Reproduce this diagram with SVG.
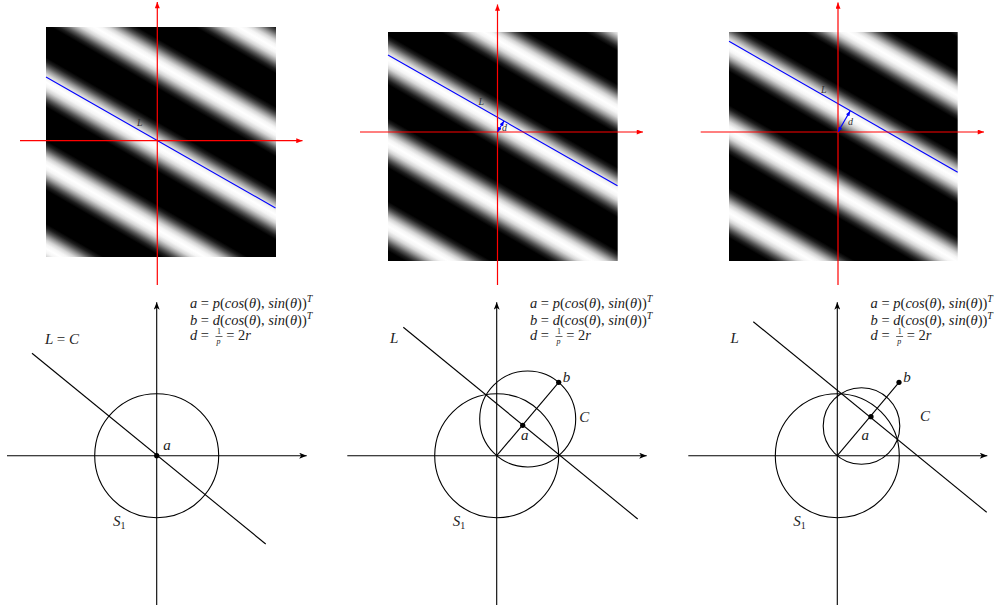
<svg xmlns="http://www.w3.org/2000/svg" xmlns:xlink="http://www.w3.org/1999/xlink" width="997" height="610" viewBox="0 0 997 610">
<style>
.red{stroke:#ff0000;stroke-width:1.2;fill:none}
.blue{stroke:#0000ff;stroke-width:1.1;fill:none}
.blk{stroke:#000;stroke-width:1.1;fill:none}
.ax{stroke:#000;stroke-width:1.1;fill:none}
.tl{font-family:"Liberation Serif",serif;font-style:italic;font-size:10px;fill:#333}
.lb{font-family:"Liberation Serif",serif;font-style:italic;font-size:15px;fill:#222}
.fm{font-family:"Liberation Serif",serif;font-style:italic;font-size:14.5px;fill:#222}
.sm{font-family:"Liberation Serif",serif;font-style:italic;font-size:8px;fill:#222}
.up{font-style:normal}
</style>
<defs>
<marker id="ra" viewBox="0 0 10 8" refX="10" refY="4" markerWidth="7" markerHeight="5" orient="auto" markerUnits="userSpaceOnUse"><path d="M0,0 L10,4 L0,8 z" fill="#ff0000"/></marker>
<marker id="ba" viewBox="0 0 10 8" refX="10" refY="4" markerWidth="5" markerHeight="4" orient="auto-start-reverse" markerUnits="userSpaceOnUse"><path d="M0,0 L10,4 L0,8 z" fill="#0000ff"/></marker>
<marker id="ka" viewBox="0 0 10 8" refX="10" refY="4" markerWidth="9" markerHeight="6" orient="auto" markerUnits="userSpaceOnUse"><path d="M0,0 L10,4 L0,8 L2.5,4 z" fill="#000"/></marker>
<linearGradient id="g1" gradientUnits="userSpaceOnUse" x1="154.8" y1="145.03" x2="190.8" y2="82.68" spreadMethod="repeat">
<stop offset="0" stop-color="#fff"/><stop offset="0.05" stop-color="#f5f5f5"/><stop offset="0.1" stop-color="#d5d5d5"/><stop offset="0.15" stop-color="#9a9a9a"/><stop offset="0.2" stop-color="#555"/><stop offset="0.25" stop-color="#1e1e1e"/><stop offset="0.3" stop-color="#000"/><stop offset="0.7" stop-color="#000"/><stop offset="0.75" stop-color="#1e1e1e"/><stop offset="0.8" stop-color="#555"/><stop offset="0.85" stop-color="#9a9a9a"/><stop offset="0.9" stop-color="#d5d5d5"/><stop offset="0.95" stop-color="#f5f5f5"/><stop offset="1" stop-color="#fff"/>
</linearGradient>
<linearGradient id="g2" xlink:href="#g1" gradientUnits="userSpaceOnUse" x1="501.4" y1="125.33" x2="537.4" y2="62.98" spreadMethod="repeat"/>
<linearGradient id="g3" xlink:href="#g1" gradientUnits="userSpaceOnUse" x1="847.7" y1="115.23" x2="883.7" y2="52.88" spreadMethod="repeat"/>
</defs>
<rect width="997" height="610" fill="#fff"/>

<g id="top-1">
<rect x="46" y="27" width="230" height="230" fill="url(#g1)"/>
<line class="blue" x1="46" y1="77" x2="275.5" y2="208"/>
<line class="red" x1="157.3" y1="285" x2="157.3" y2="2" marker-end="url(#ra)"/>
<line class="red" x1="20" y1="140.7" x2="302.5" y2="140.7" marker-end="url(#ra)"/>
<text class="tl" x="137" y="126">L</text>
</g>

<g id="top-2">
<rect x="388" y="32" width="229.7" height="229" fill="url(#g2)"/>
<line class="blue" x1="388" y1="55" x2="617.5" y2="185.7"/>
<line class="red" x1="497.5" y1="285" x2="497.5" y2="4.5" marker-end="url(#ra)"/>
<line class="red" x1="360" y1="132" x2="643" y2="132" marker-end="url(#ra)"/>
<line class="blue" x1="497.5" y1="132" x2="503.9" y2="121" marker-start="url(#ba)" marker-end="url(#ba)"/>
<text class="tl" x="478.5" y="105">L</text>
<text class="tl" x="502" y="131">d</text>
</g>

<g id="top-3">
<rect x="729" y="32" width="228.7" height="229" fill="url(#g3)"/>
<line class="blue" x1="729" y1="41.3" x2="957.7" y2="172.3"/>
<line class="red" x1="838" y1="285" x2="838" y2="2.5" marker-end="url(#ra)"/>
<line class="red" x1="700.7" y1="132" x2="984" y2="132" marker-end="url(#ra)"/>
<line class="blue" x1="838" y1="132" x2="850.2" y2="110.9" marker-start="url(#ba)" marker-end="url(#ba)"/>
<text class="tl" x="821" y="93">L</text>
<text class="tl" x="848" y="125">d</text>
</g>

<g id="bottom-1" transform="translate(156.7,455.7)">
<line class="ax" x1="-149.7" y1="0" x2="150" y2="0" marker-end="url(#ka)"/>
<line class="ax" x1="0" y1="149.3" x2="0" y2="-153.5" marker-end="url(#ka)"/>
<circle class="blk" cx="0" cy="0" r="62"/>
<line class="blk" x1="-124.7" y1="-102.4" x2="109" y2="88.3"/>
<circle cx="0" cy="0" r="2.6" fill="#000"/>
<text class="lb" x="-111.7" y="-111.7">L <tspan class="up">=</tspan> C</text>
<text class="lb" x="6.6" y="-6">a</text>
<text class="lb" x="-43.7" y="70.3">S<tspan font-size="10" dy="3" class="up">1</tspan></text>
<text class="fm" x="33.3" y="-147.7">a <tspan class="up">=</tspan> p<tspan class="up">(</tspan>cos<tspan class="up">(</tspan>θ<tspan class="up">),</tspan> sin<tspan class="up">(</tspan>θ<tspan class="up">))</tspan><tspan font-size="10" dy="-6">T</tspan></text>
<text class="fm" x="33.3" y="-130.7">b <tspan class="up">=</tspan> d<tspan class="up">(</tspan>cos<tspan class="up">(</tspan>θ<tspan class="up">),</tspan> sin<tspan class="up">(</tspan>θ<tspan class="up">))</tspan><tspan font-size="10" dy="-6">T</tspan></text>
<text class="fm" x="33.3" y="-115.7">d <tspan class="up">=</tspan></text>
<text class="sm up" x="60.4" y="-121.4">1</text>
<line x1="58.8" y1="-119.2" x2="65.8" y2="-119.2" stroke="#222" stroke-width="0.7"/>
<text class="sm" x="59.9" y="-111.3">p</text>
<text class="fm" x="69.5" y="-115.7"><tspan class="up">= 2</tspan>r</text>
</g>

<g id="bottom-2" transform="translate(496.7,455.7)">
<line class="ax" x1="-149.4" y1="0" x2="150" y2="0" marker-end="url(#ka)"/>
<line class="ax" x1="0" y1="149.3" x2="0" y2="-153.5" marker-end="url(#ka)"/>
<circle class="blk" cx="0" cy="0" r="62"/>
<circle class="blk" cx="31" cy="-36.7" r="48"/>
<line class="blk" x1="-93.4" y1="-128.4" x2="141" y2="63.3"/>
<line class="blk" x1="0" y1="0" x2="62" y2="-73.4"/>
<circle cx="26" cy="-30.4" r="2.6" fill="#000"/>
<circle cx="62" cy="-73.4" r="2.6" fill="#000"/>
<text class="lb" x="-106.7" y="-113">L</text>
<text class="lb" x="66" y="-74">b</text>
<text class="lb" x="82.6" y="-34">C</text>
<text class="lb" x="24.3" y="-15.7">a</text>
<text class="lb" x="-44" y="70.3">S<tspan font-size="10" dy="3" class="up">1</tspan></text>
<text class="fm" x="33.3" y="-147.7">a <tspan class="up">=</tspan> p<tspan class="up">(</tspan>cos<tspan class="up">(</tspan>θ<tspan class="up">),</tspan> sin<tspan class="up">(</tspan>θ<tspan class="up">))</tspan><tspan font-size="10" dy="-6">T</tspan></text>
<text class="fm" x="33.3" y="-130.7">b <tspan class="up">=</tspan> d<tspan class="up">(</tspan>cos<tspan class="up">(</tspan>θ<tspan class="up">),</tspan> sin<tspan class="up">(</tspan>θ<tspan class="up">))</tspan><tspan font-size="10" dy="-6">T</tspan></text>
<text class="fm" x="33.3" y="-115.7">d <tspan class="up">=</tspan></text>
<text class="sm up" x="60.4" y="-121.4">1</text>
<line x1="58.8" y1="-119.2" x2="65.8" y2="-119.2" stroke="#222" stroke-width="0.7"/>
<text class="sm" x="59.9" y="-111.3">p</text>
<text class="fm" x="69.5" y="-115.7"><tspan class="up">= 2</tspan>r</text>
</g>

<g id="bottom-3" transform="translate(837.3,455.7)">
<line class="ax" x1="-149" y1="0" x2="150" y2="0" marker-end="url(#ka)"/>
<line class="ax" x1="0" y1="149.3" x2="0" y2="-153.5" marker-end="url(#ka)"/>
<circle class="blk" cx="0" cy="0" r="62"/>
<circle class="blk" cx="24.2" cy="-29.7" r="38.3"/>
<line class="blk" x1="-84" y1="-134" x2="149.4" y2="56.6"/>
<line class="blk" x1="0" y1="0" x2="61.7" y2="-73.4"/>
<circle cx="33.7" cy="-39" r="2.6" fill="#000"/>
<circle cx="61.7" cy="-73.4" r="2.6" fill="#000"/>
<text class="lb" x="-106.7" y="-113">L</text>
<text class="lb" x="66" y="-74">b</text>
<text class="lb" x="82.7" y="-35">C</text>
<text class="lb" x="24.3" y="-15.7">a</text>
<text class="lb" x="-44" y="70.3">S<tspan font-size="10" dy="3" class="up">1</tspan></text>
<text class="fm" x="33.3" y="-147.7">a <tspan class="up">=</tspan> p<tspan class="up">(</tspan>cos<tspan class="up">(</tspan>θ<tspan class="up">),</tspan> sin<tspan class="up">(</tspan>θ<tspan class="up">))</tspan><tspan font-size="10" dy="-6">T</tspan></text>
<text class="fm" x="33.3" y="-130.7">b <tspan class="up">=</tspan> d<tspan class="up">(</tspan>cos<tspan class="up">(</tspan>θ<tspan class="up">),</tspan> sin<tspan class="up">(</tspan>θ<tspan class="up">))</tspan><tspan font-size="10" dy="-6">T</tspan></text>
<text class="fm" x="33.3" y="-115.7">d <tspan class="up">=</tspan></text>
<text class="sm up" x="60.4" y="-121.4">1</text>
<line x1="58.8" y1="-119.2" x2="65.8" y2="-119.2" stroke="#222" stroke-width="0.7"/>
<text class="sm" x="59.9" y="-111.3">p</text>
<text class="fm" x="69.5" y="-115.7"><tspan class="up">= 2</tspan>r</text>
</g>
</svg>
